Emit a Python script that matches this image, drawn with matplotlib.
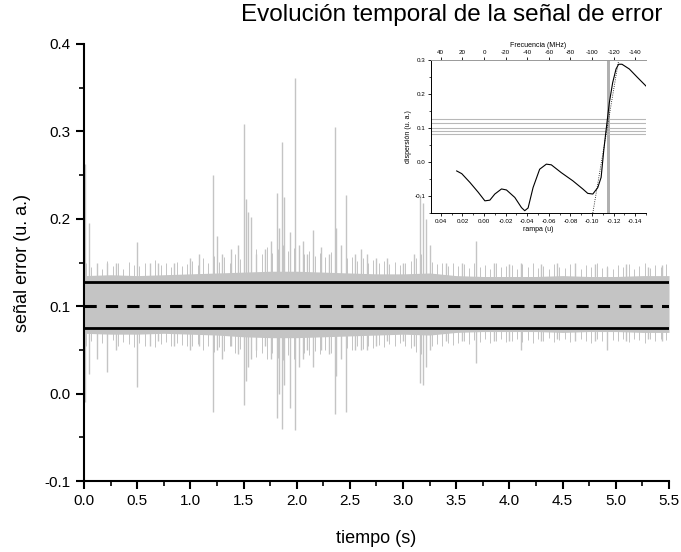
import numpy as np
import matplotlib
matplotlib.use("Agg")
import matplotlib.pyplot as plt

plt.rcParams['font.family'] = ['Liberation Sans', 'DejaVu Sans']
plt.rcParams['axes.unicode_minus'] = False

# banda densa de la señal (envolvente)
t_banda = [0.0, 0.25, 0.5, 0.75, 1.0, 1.25, 1.5, 1.75, 2.0, 2.25, 2.5, 2.75,
           3.0, 3.25, 3.5, 3.75, 4.0, 4.25, 4.5, 4.75, 5.0, 5.25, 5.5]
banda_sup = [0.135, 0.136, 0.135, 0.136, 0.137, 0.138, 0.139, 0.140, 0.140, 0.139, 0.138, 0.137,
             0.137, 0.138, 0.135, 0.134, 0.134, 0.134, 0.135, 0.134, 0.134, 0.135, 0.135]
banda_inf = [0.069, 0.068, 0.068, 0.069, 0.068, 0.067, 0.065, 0.064, 0.064, 0.065, 0.066, 0.067,
             0.068, 0.067, 0.070, 0.071, 0.071, 0.071, 0.070, 0.071, 0.071, 0.070, 0.070]

# pelos de ruido alrededor de la banda (cada 0.05 s)
pelos_t = np.arange(0.02, 5.5, 0.05)
pelos_max = [0.150, 0.145, 0.148, 0.142, 0.152, 0.146, 0.149, 0.143, 0.151, 0.147,
             0.146, 0.150, 0.144, 0.153, 0.147, 0.149, 0.145, 0.151, 0.146, 0.148,
             0.152, 0.147, 0.155, 0.149, 0.158, 0.151, 0.156, 0.150, 0.160, 0.154,
             0.162, 0.158, 0.165, 0.160, 0.168, 0.161, 0.166, 0.170, 0.163, 0.167,
             0.165, 0.160, 0.163, 0.158, 0.161, 0.156, 0.162, 0.157, 0.159, 0.155,
             0.156, 0.152, 0.155, 0.150, 0.153, 0.149, 0.152, 0.148, 0.151, 0.147,
             0.150, 0.152, 0.155, 0.160, 0.158, 0.151, 0.148, 0.150, 0.146, 0.149,
             0.146, 0.148, 0.144, 0.150, 0.145, 0.147, 0.143, 0.149, 0.145, 0.146,
             0.147, 0.143, 0.148, 0.145, 0.149, 0.144, 0.146, 0.142, 0.148, 0.145,
             0.144, 0.148, 0.146, 0.143, 0.147, 0.145, 0.149, 0.144, 0.146, 0.143,
             0.147, 0.145, 0.148, 0.143, 0.146, 0.149, 0.144, 0.147, 0.145, 0.148]
pelos_min = [0.055, 0.060, 0.052, 0.058, 0.056, 0.061, 0.054, 0.059, 0.057, 0.053,
             0.058, 0.055, 0.060, 0.053, 0.057, 0.059, 0.054, 0.058, 0.056, 0.055,
             0.054, 0.057, 0.050, 0.055, 0.048, 0.053, 0.049, 0.054, 0.046, 0.051,
             0.045, 0.049, 0.042, 0.047, 0.040, 0.046, 0.041, 0.038, 0.044, 0.040,
             0.042, 0.047, 0.044, 0.049, 0.045, 0.050, 0.046, 0.051, 0.048, 0.052,
             0.050, 0.054, 0.051, 0.055, 0.052, 0.056, 0.053, 0.057, 0.054, 0.058,
             0.055, 0.052, 0.048, 0.045, 0.050, 0.054, 0.057, 0.055, 0.058, 0.056,
             0.058, 0.060, 0.057, 0.061, 0.059, 0.062, 0.058, 0.060, 0.063, 0.059,
             0.060, 0.063, 0.059, 0.061, 0.058, 0.062, 0.060, 0.064, 0.059, 0.061,
             0.062, 0.059, 0.061, 0.063, 0.060, 0.058, 0.062, 0.060, 0.064, 0.061,
             0.060, 0.062, 0.059, 0.063, 0.061, 0.058, 0.062, 0.060, 0.063, 0.061]

# picos grandes de la señal
picos_t = [0.01, 0.05, 0.12, 0.22, 0.30, 0.50, 0.62, 0.70, 0.85, 1.00, 1.08, 1.215, 1.25, 1.30,
           1.38, 1.45, 1.50, 1.52, 1.54, 1.57, 1.62, 1.70, 1.76, 1.81, 1.83, 1.86, 1.88, 1.94,
           1.98, 2.02, 2.06, 2.10, 2.155, 2.23, 2.30, 2.36, 2.37, 2.42, 2.46, 2.55, 2.60, 2.66,
           2.75, 2.85, 3.00, 3.10, 3.16, 3.19, 3.22, 3.25, 3.40, 3.55, 3.69, 3.85, 4.00, 4.11,
           4.30, 4.45, 4.615, 4.80, 4.92, 5.10, 5.30, 5.43]
picos_max = [0.263, 0.195, 0.150, 0.150, 0.150, 0.174, 0.150, 0.150, 0.150, 0.155, 0.160, 0.250, 0.180, 0.160,
             0.165, 0.170, 0.309, 0.223, 0.208, 0.202, 0.160, 0.165, 0.175, 0.229, 0.190, 0.288, 0.225, 0.185,
             0.361, 0.170, 0.175, 0.160, 0.187, 0.168, 0.160, 0.305, 0.190, 0.170, 0.227, 0.160, 0.165, 0.160,
             0.155, 0.155, 0.150, 0.160, 0.227, 0.218, 0.200, 0.170, 0.150, 0.150, 0.175, 0.150, 0.148, 0.150,
             0.148, 0.150, 0.150, 0.148, 0.145, 0.148, 0.145, 0.147]
picos_min = [-0.010, 0.023, 0.040, 0.025, 0.050, 0.008, 0.055, 0.060, 0.055, 0.050, 0.055, -0.021, 0.050, 0.040,
             0.055, 0.045, -0.013, 0.014, 0.030, 0.040, 0.050, 0.055, 0.040, -0.028, 0.000, -0.040, 0.010, -0.016,
             -0.042, 0.030, 0.040, 0.050, 0.031, 0.050, 0.045, -0.023, 0.020, 0.040, -0.021, 0.050, 0.050, 0.050,
             0.055, 0.060, 0.060, 0.055, 0.012, 0.010, 0.030, 0.050, 0.060, 0.060, 0.035, 0.060, 0.060, 0.050,
             0.060, 0.062, 0.060, 0.060, 0.050, 0.060, 0.062, 0.060]

# niveles horizontales
nivel_sup = 0.128
nivel_medio = 0.100
nivel_inf = 0.075

# inset: curva de dispersión
rampa = [0.0253, 0.0206, 0.0130, 0.0053, -0.0008, -0.0054, -0.0100, -0.0162, -0.0208, -0.0285,
         -0.0347, -0.0377, -0.0408, -0.0454, -0.0515, -0.0577, -0.0623, -0.0715, -0.0822, -0.0914,
         -0.0960, -0.1007, -0.1053, -0.1084, -0.1108, -0.1124, -0.1160, -0.1191, -0.1222, -0.1246,
         -0.1277, -0.1345, -0.1421, -0.1499]
dispersion = [-0.026, -0.034, -0.060, -0.089, -0.114, -0.112, -0.094, -0.079, -0.082, -0.104,
              -0.134, -0.143, -0.135, -0.075, -0.021, -0.006, -0.008, -0.031, -0.055, -0.079,
              -0.092, -0.094, -0.075, -0.045, 0.033, 0.078, 0.175, 0.234, 0.274, 0.288,
              0.288, 0.274, 0.249, 0.224]
ajuste_x = [-0.1007, -0.1246]
ajuste_y = [-0.150, 0.300]
niveles_inset = [0.127, 0.116, 0.101, 0.091, 0.083]

fig = plt.figure(figsize=(6.81, 5.52), dpi=100)
ax = fig.add_axes([0.1233, 0.1286, 0.8591, 0.7917])

gris = '#c4c4c4'
ax.fill_between(t_banda, banda_inf, banda_sup, color=gris, lw=0)
ax.vlines(pelos_t, pelos_min, pelos_max, color=gris, lw=0.7)
ax.vlines(picos_t, picos_min, picos_max, color=gris, lw=1.0)

ax.axhline(nivel_sup, color='black', lw=2)
ax.axhline(nivel_inf, color='black', lw=2)
ax.axhline(nivel_medio, color='black', lw=2.2, ls=(0, (4, 3)))

ax.set_xlim(0, 5.5)
ax.set_ylim(-0.1, 0.4)
ax.set_xticks(np.arange(0, 5.51, 0.5))
ax.set_xticks(np.arange(0, 5.51, 0.25), minor=True)
ax.set_yticks([-0.1, 0.0, 0.1, 0.2, 0.3, 0.4])
ax.set_yticks(np.arange(-0.1, 0.401, 0.05), minor=True)
ax.xaxis.set_major_formatter(plt.FormatStrFormatter('%.1f'))
ax.yaxis.set_major_formatter(plt.FormatStrFormatter('%.1f'))
ax.spines['top'].set_visible(False)
ax.spines['right'].set_visible(False)
ax.spines['left'].set_linewidth(1.5)
ax.spines['bottom'].set_linewidth(1.5)
ax.tick_params(which='major', direction='out', length=6, width=1.5, labelsize=11)
ax.tick_params(which='minor', direction='out', length=3.5, width=1.2)
ax.set_xlabel('tiempo (s)', fontsize=13, labelpad=16)
ax.set_ylabel('señal error (u. a.)', fontsize=13, labelpad=10)
fig.text(0.664, 0.972, 'Evolución temporal de la señal de error', fontsize=17.5,
         ha='center', va='center')

# inset
axi = fig.add_axes([0.633, 0.614, 0.3157, 0.277])
axi.set_facecolor('white')
for y in niveles_inset:
    axi.axhline(y, color='#b8b8b8', lw=0.8)
axi.axvspan(-0.1142, -0.1167, color='#b0b0b0', lw=0)
axi.plot(rampa, dispersion, color='black', lw=0.8)
axi.plot(ajuste_x, ajuste_y, color='black', lw=0.6, ls=':')
axi.set_xlim(0.049, -0.149)
axi.set_ylim(-0.15, 0.3)
axi.set_xticks([0.04, 0.02, 0.0, -0.02, -0.04, -0.06, -0.08, -0.10, -0.12, -0.14])
axi.set_xticklabels(['0.04', '0.02', '0.00', '-0.02', '-0.04', '-0.06', '-0.08', '-0.10', '-0.12', '-0.14'])
axi.set_xticks(np.arange(-0.15, 0.05, 0.01), minor=True)
axi.set_yticks([-0.1, 0.0, 0.1, 0.2, 0.3])
axi.set_yticklabels(['-0.1', '0.0', '0.1', '0.2', '0.3'])
axi.set_yticks(np.arange(-0.15, 0.301, 0.05), minor=True)
axi.spines['right'].set_visible(False)
for s in ['left', 'bottom', 'top']:
    axi.spines[s].set_linewidth(0.7)
axi.spines['top'].set_color('#999999')
axi.tick_params(which='major', direction='out', length=2.5, width=0.6, labelsize=4.5, pad=1.5)
axi.tick_params(which='minor', direction='out', length=1.5, width=0.5)
axi.set_xlabel('rampa (u)', fontsize=5, labelpad=2)
axi.set_ylabel('dispersión (u. a.)', fontsize=5, labelpad=2)

sec = axi.secondary_xaxis('top', functions=(lambda x: x * 1000, lambda f: f / 1000))
sec.set_xticks([40, 20, 0, -20, -40, -60, -80, -100, -120, -140])
sec.tick_params(direction='out', length=2.5, width=0.6, labelsize=4.5, pad=1.5)
sec.spines['top'].set_visible(False)
sec.set_xlabel('Frecuencia (MHz)', fontsize=5, labelpad=2)

fig.savefig('out.png', dpi=100)
